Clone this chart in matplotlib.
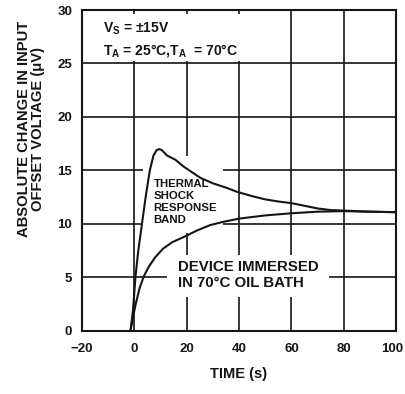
import matplotlib
matplotlib.use("Agg")
import matplotlib.pyplot as plt
import matplotlib.transforms as mtransforms
from matplotlib.patches import Rectangle

plt.rcParams['font.family'] = ['Liberation Sans', 'DejaVu Sans']
plt.rcParams['font.weight'] = 'bold'
plt.rcParams['axes.labelweight'] = 'bold'
plt.rcParams['mathtext.default'] = 'bf'

# Upper edge of the thermal shock response band
upper_t = [-1.5, -0.5, 0.4, 1.5, 2.9, 4.3, 5.9, 7.3, 8.5, 9.5, 10.5, 12.5,
           15.7, 18.9, 25.3, 30, 35, 39.3, 45, 50, 55, 60, 65, 70, 75, 80,
           90, 100]
upper_v = [0, 2.0, 5.0, 7.5, 10.0, 12.5, 15.0, 16.4, 16.9, 17.0, 16.9, 16.4,
           16.0, 15.35, 14.3, 13.8, 13.4, 13.0, 12.6, 12.3, 12.1, 11.95, 11.7,
           11.45, 11.3, 11.25, 11.15, 11.1]

# Lower edge of the band
lower_t = [-1.5, -0.5, 0.5, 2, 3.6, 5.5, 8, 11, 14.5, 19, 24, 29, 34, 40,
           50, 60, 70, 80, 90, 100]
lower_v = [0, 1.3, 2.5, 4.0, 5.1, 6.0, 6.9, 7.7, 8.3, 8.8, 9.4, 9.9, 10.2,
           10.5, 10.8, 11.0, 11.15, 11.2, 11.15, 11.1]

x_ticks = [-20, 0, 20, 40, 60, 80, 100]
y_ticks = [0, 5, 10, 15, 20, 25, 30]

ink = '#151515'

fig = plt.figure(figsize=(4.05, 3.94), dpi=100)
ax = fig.add_axes([0.2025, 0.16, 0.7755, 0.8146])
ax.set_xlim(-20, 100)
ax.set_ylim(0, 30)
ax.set_xticks(x_ticks)
ax.set_yticks(y_ticks)
ax.set_xticklabels(['\u221220' if t == -20 else str(t) for t in x_ticks])
ax.tick_params(length=0, labelsize=9.5, colors=ink)
ax.tick_params(axis='y', pad=7)
ax.tick_params(axis='x', pad=9)

# Nudge the last x label so it stays inside the figure edge
last = ax.get_xticklabels()[-1]
last.set_transform(last.get_transform() +
                   mtransforms.ScaledTranslation(-4 / 100, 0, fig.dpi_scale_trans))

ax.set_axisbelow(True)
ax.grid(True, color=ink, linewidth=1.2)
for s in ax.spines.values():
    s.set_linewidth(1.5)
    s.set_color(ink)

# Clear areas of the grid behind the annotations
for (x0, y0, w, h) in [(-19, 25.25, 70, 4.35), (3.4, 9.2, 30.6, 7.2),
                       (12.6, 3.2, 61.7, 3.9)]:
    ax.add_patch(Rectangle((x0, y0), w, h, facecolor='white',
                           edgecolor='none', zorder=1))

ax.plot(upper_t, upper_v, color=ink, linewidth=1.5, zorder=3)
ax.plot(lower_t, lower_v, color=ink, linewidth=1.5, zorder=3)

ax.text(-12.0, 28.25, 'V$_\\mathregular{S}$ = \u00b115V', fontsize=10,
        va='center', ha='left', color=ink, zorder=4)
ax.text(-12.0, 26.2, 'T$_\\mathregular{A}$ = 25\u00b0C,T$_\\mathregular{A}$  = 70\u00b0C',
        fontsize=10, va='center', ha='left', color=ink, zorder=4)
ax.text(7.3, 14.2, 'THERMAL\nSHOCK\nRESPONSE\nBAND', fontsize=8.2,
        va='top', ha='left', linespacing=1.25, color=ink, zorder=4)
ax.text(16.5, 6.0, 'DEVICE IMMERSED', fontsize=10.8, va='center',
        ha='left', color=ink, zorder=4)
ax.text(16.5, 4.5, 'IN 70\u00b0C OIL BATH', fontsize=10.8, va='center',
        ha='left', color=ink, zorder=4)

ax.set_xlabel('TIME (s)', fontsize=10.5, labelpad=8, color=ink)
ax.set_ylabel('ABSOLUTE CHANGE IN INPUT\nOFFSET VOLTAGE (\u03bcV)', fontsize=10.6,
              linespacing=1.05, color=ink)
ax.yaxis.set_label_coords(-0.117, 0.63)

fig.savefig('out.png', dpi=100, facecolor='white')
